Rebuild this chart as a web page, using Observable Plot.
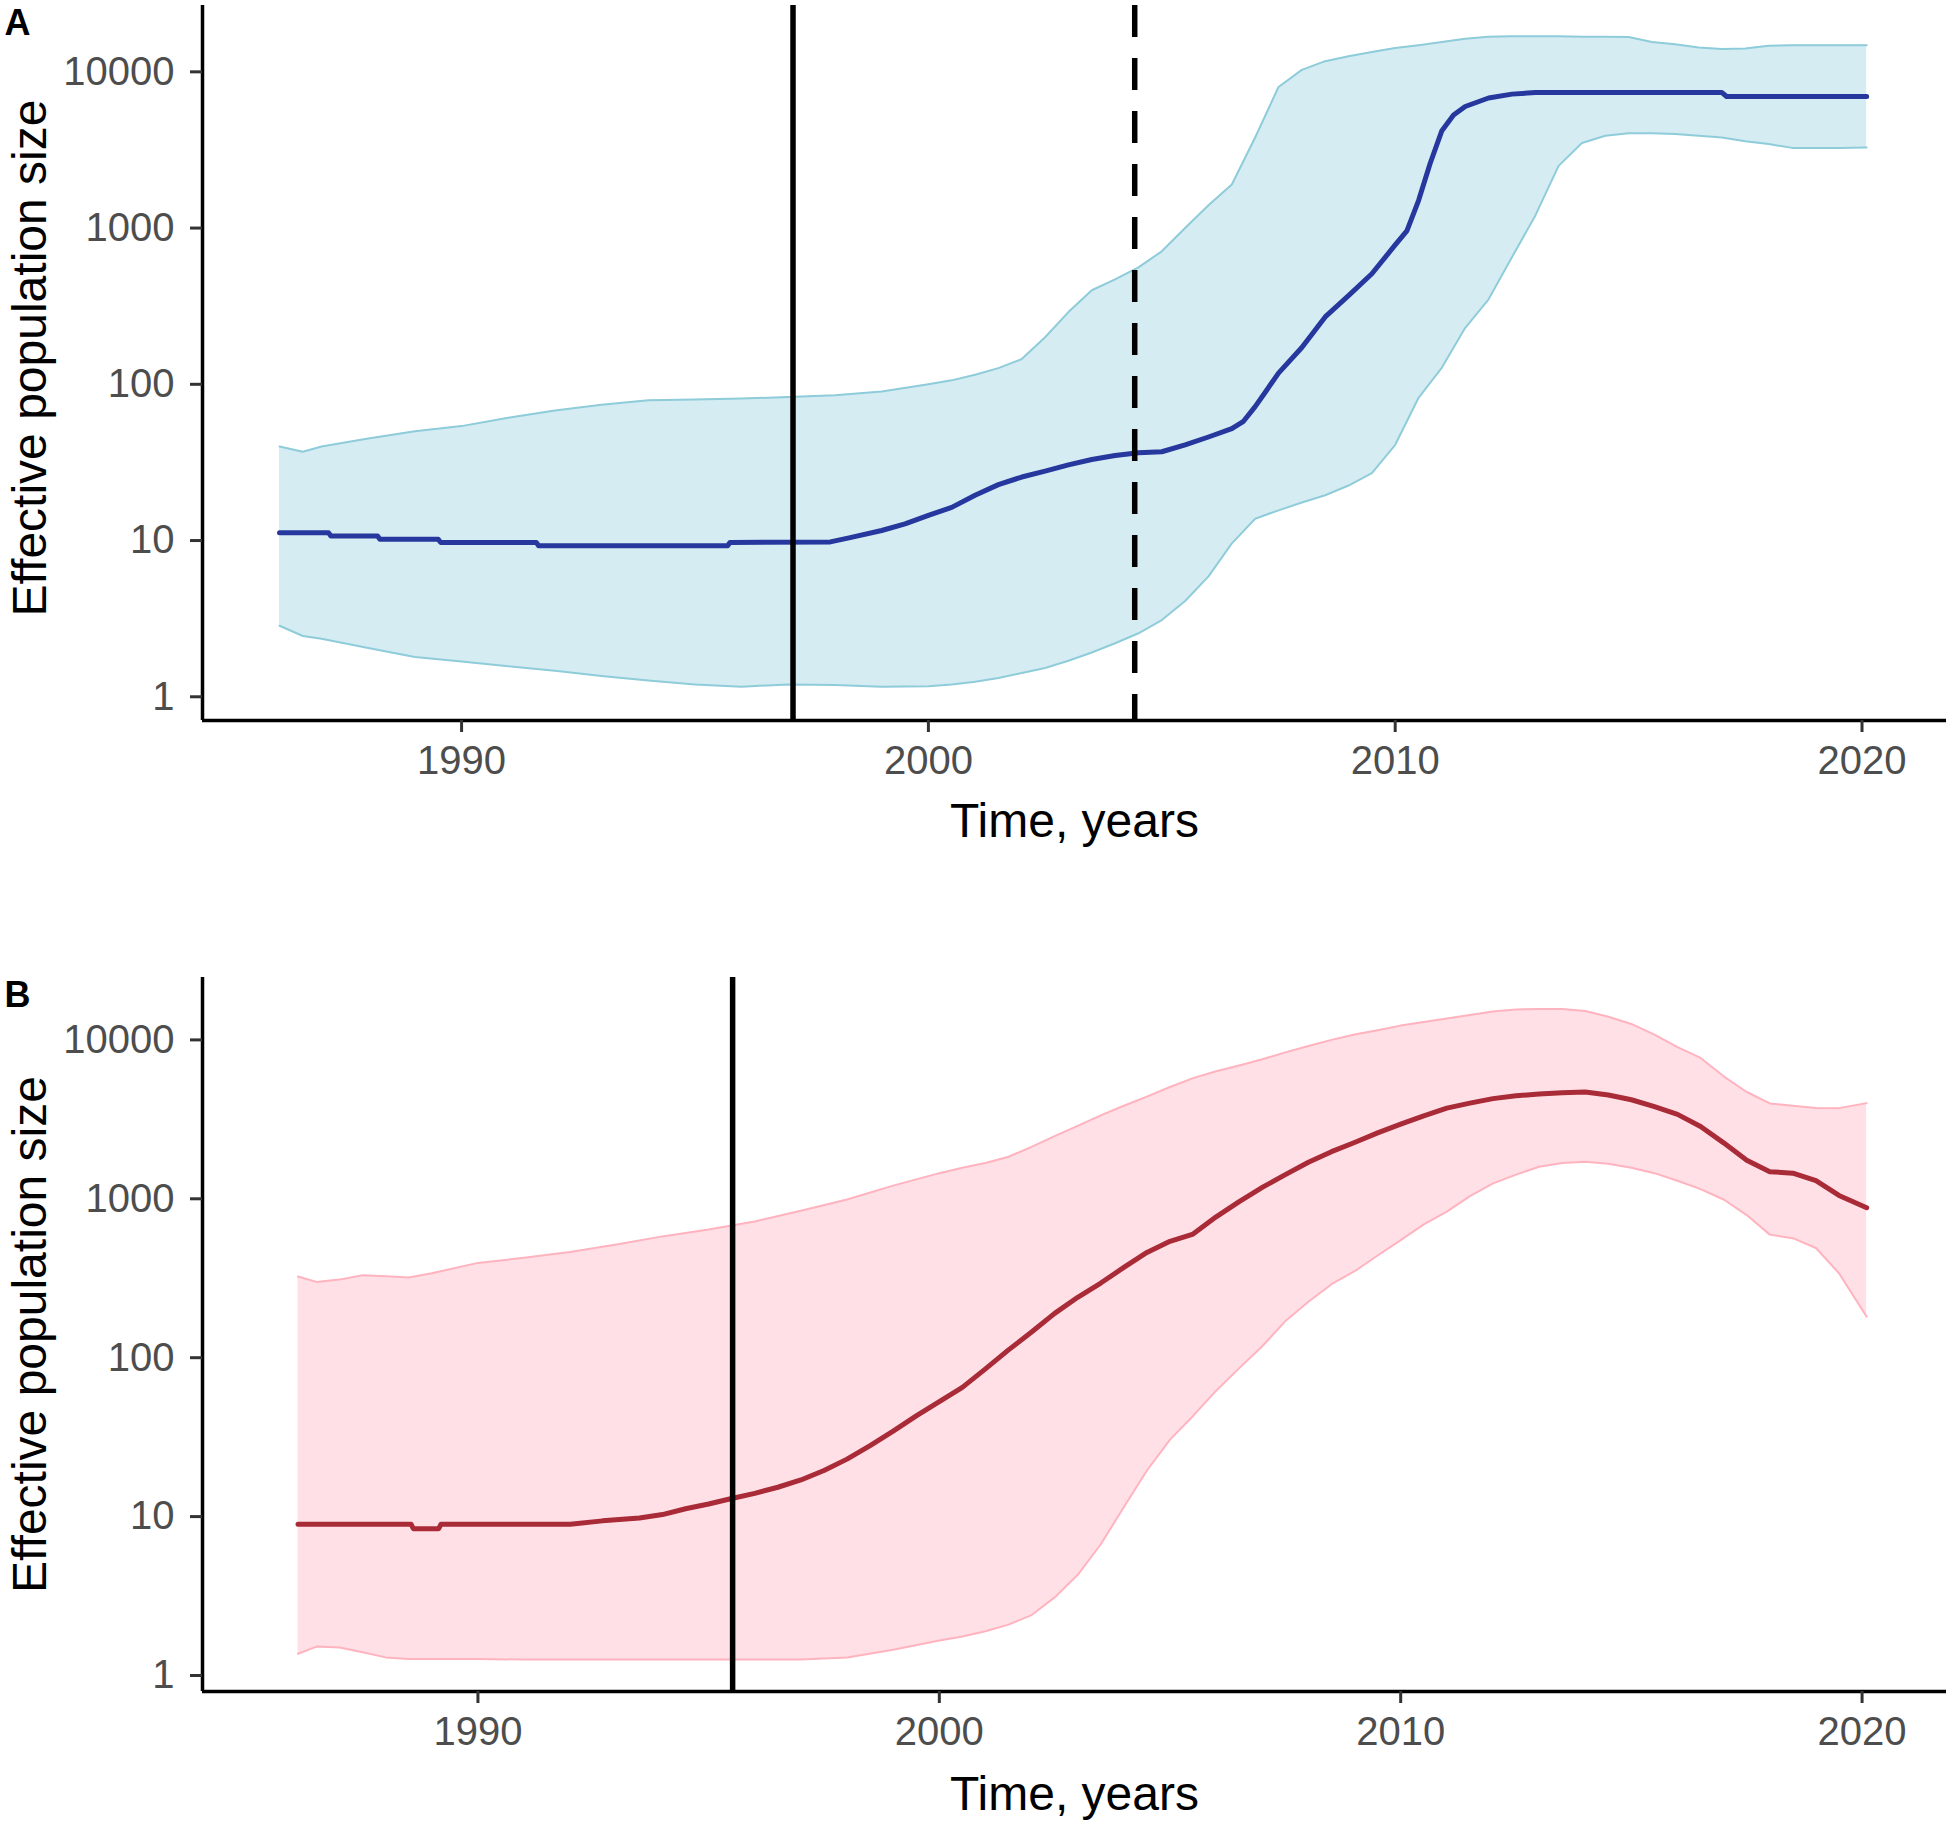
<!DOCTYPE html>
<html>
<head>
<meta charset="utf-8">
<script src="https://cdn.jsdelivr.net/npm/d3@7"></script>
<script src="https://cdn.jsdelivr.net/npm/@observablehq/plot@0.6"></script>
<style>
html, body { margin: 0; padding: 0; background: #fff; }
#chart svg { display: block; }
</style>
</head>
<body>
<div id="chart"></div>
<script>
// ---------- Panel A (blue) ----------
const gridA = [1986.1, 1986.6, 1987, 1988, 1989, 1990, 1991, 1992, 1993, 1994, 1995, 1996, 1997, 1998, 1999,
  2000, 2000.5, 2001, 2001.5, 2002, 2002.5, 2003, 2003.5, 2004, 2004.5, 2005, 2005.5, 2006, 2006.5, 2007, 2007.5,
  2008, 2008.5, 2009, 2009.5, 2010, 2010.5, 2011, 2011.5, 2012, 2012.5, 2013, 2013.5, 2014, 2014.5, 2015, 2015.5,
  2016, 2016.5, 2017, 2017.5, 2018, 2018.5, 2019, 2019.5, 2020.1];
const upperA = [40, 37, 40, 45, 50, 54, 61, 68, 74, 79, 80, 81, 83, 85, 90,
  100, 106, 115, 127, 145, 200, 290, 400, 470, 560, 710, 1000, 1400, 1900, 3800, 8000,
  10300, 11700, 12600, 13400, 14200, 14800, 15500, 16300, 16800, 16900, 16900, 16900, 16800, 16800, 16700, 15500,
  15000, 14300, 14000, 14100, 14700, 14800, 14800, 14800, 14800];
const lowerA = [2.85, 2.45, 2.35, 2.05, 1.8, 1.68, 1.57, 1.47, 1.36, 1.27, 1.2, 1.16, 1.2, 1.19, 1.16,
  1.17, 1.2, 1.25, 1.32, 1.42, 1.53, 1.7, 1.92, 2.2, 2.55, 3.1, 4.1, 5.9, 9.6, 13.8, 15.6,
  17.5, 19.5, 22.5, 27, 41, 82, 128, 230, 350, 650, 1200, 2500, 3500, 3900, 4050, 4050,
  4000, 3900, 3800, 3600, 3450, 3260, 3250, 3260, 3280];
const meanYearsA = [1986.1, 1987.15, 1987.2, 1988.2, 1988.25, 1989.5, 1989.55, 1991.6, 1991.65, 1995.7, 1995.75,
  1997.9, 1998.3, 1999.0, 1999.5, 2000.0, 2000.5, 2001.0, 2001.5, 2002.0, 2002.5, 2003.0, 2003.5, 2004.0, 2004.5,
  2005.0, 2005.5, 2006.0, 2006.5, 2006.75, 2007.0, 2007.25, 2007.5, 2008.0, 2008.5, 2009.0, 2009.5, 2010.0,
  2010.25, 2010.5, 2010.75, 2011.0, 2011.25, 2011.5, 2012.0, 2012.5, 2013.0, 2017.0, 2017.1, 2020.1];
const meanA = [11.2, 11.2, 10.7, 10.7, 10.2, 10.2, 9.73, 9.73, 9.26, 9.26, 9.73,
  9.8, 10.4, 11.6, 12.8, 14.5, 16.3, 19.5, 22.8, 25.5, 27.8, 30.5, 33, 35, 36.5,
  37, 41, 46, 52, 58, 72, 92, 118, 172, 270, 370, 510, 780,
  960, 1500, 2600, 4200, 5300, 6000, 6800, 7200, 7370, 7370, 6950, 6950];
const solidA = [1997.1];
const dashedA = [2004.42];

// ---------- Panel B (red) ----------
const gridB = [1986.1, 1986.5, 1987, 1987.5, 1988, 1988.5, 1989, 1990, 1991, 1992, 1993, 1994, 1995, 1996, 1997, 1998, 1999,
  2000, 2000.5, 2001, 2001.5, 2002, 2002.5, 2003, 2003.5, 2004, 2004.5, 2005, 2005.5, 2006, 2006.5, 2007, 2007.5,
  2008, 2008.5, 2009, 2009.5, 2010, 2010.5, 2011, 2011.5, 2012, 2012.5, 2013, 2013.5, 2014, 2014.5, 2015, 2015.5,
  2016, 2016.5, 2017, 2017.5, 2018, 2018.5, 2019, 2019.5, 2020.1];
const upperB = [324, 300, 310, 330, 325, 320, 340, 395, 425, 462, 515, 580, 640, 720, 840, 990, 1210,
  1450, 1570, 1680, 1840, 2120, 2480, 2880, 3350, 3850, 4400, 5050, 5750, 6350, 6900, 7550, 8350,
  9150, 10000, 10800, 11500, 12300, 12950, 13650, 14350, 15100, 15550, 15650, 15650, 15200, 14000, 12600, 10800,
  9000, 7700, 5900, 4700, 3980, 3850, 3730, 3720, 4000];
const lowerB = [1.37, 1.52, 1.5, 1.4, 1.3, 1.27, 1.27, 1.27, 1.26, 1.26, 1.26, 1.26, 1.26, 1.26, 1.26, 1.3, 1.45,
  1.66, 1.76, 1.9, 2.09, 2.4, 3.1, 4.3, 6.7, 11.5, 19.5, 30.5, 43, 62, 86, 118, 170,
  225, 290, 350, 440, 550, 690, 830, 1040, 1250, 1420, 1590, 1680, 1710, 1660, 1570, 1450,
  1300, 1150, 990, 790, 595, 565, 490, 340, 181];
const meanYearsB = [1986.1, 1988.55, 1988.6, 1989.15, 1989.2, 1992.0, 1992.7, 1993.5, 1994.0, 1994.5, 1995.0, 1995.5,
  1996.0, 1996.5, 1997.0, 1997.5, 1998.0, 1998.5, 1999.0, 1999.5, 2000.0, 2000.5, 2001.0, 2001.5, 2002.0, 2002.5,
  2003.0, 2003.5, 2004.0, 2004.5, 2005.0, 2005.5, 2006.0, 2006.5, 2007.0, 2007.5, 2008.0, 2008.5, 2009.0, 2009.5,
  2010.0, 2010.5, 2011.0, 2011.5, 2012.0, 2012.5, 2013.0, 2013.5, 2014.0, 2014.5, 2015.0, 2015.5, 2016.0, 2016.5,
  2017.0, 2017.5, 2018.0, 2018.5, 2019.0, 2019.5, 2020.1];
const meanB = [8.96, 8.96, 8.4, 8.4, 8.96, 8.96, 9.4, 9.8, 10.3, 11.2, 12.0, 13.0,
  14.0, 15.3, 17.0, 19.5, 23, 28, 34.5, 43, 53, 65, 85, 112, 145, 190,
  240, 295, 370, 460, 540, 600, 770, 960, 1180, 1420, 1700, 1980, 2260, 2600,
  2950, 3330, 3720, 4000, 4270, 4450, 4570, 4650, 4700, 4500, 4200, 3800, 3400, 2850,
  2250, 1750, 1480, 1450, 1300, 1050, 879];
const solidB = [1995.52];

// ---------- Shared axis text ----------
const xTicks = [1990, 2000, 2010, 2020];
const yTicks = [1, 10, 100, 1000, 10000];
const xTitle = "Time, years";
const yTitle = "Effective population size";

function panel(o) {
  const band = o.grid.map((x, i) => ({x, lo: o.lower[i], hi: o.upper[i]}));
  const mean = o.meanYears.map((x, i) => ({x, y: o.mean[i]}));
  const W = 1950, H = 912;
  return Plot.plot({
    width: W,
    height: H,
    marginLeft: 202,
    marginRight: 4,
    marginTop: o.marginTop,
    marginBottom: o.marginBottom,
    style: {fontFamily: "'Liberation Sans', Arial, sans-serif", background: "white", overflow: "visible"},
    x: {domain: o.xDomain},
    y: {type: "log", domain: o.yDomain},
    marks: [
      Plot.areaY(band, {x: "x", y1: "lo", y2: "hi", fill: o.fill, curve: "linear"}),
      Plot.line(band, {x: "x", y: "hi", stroke: o.edge, strokeWidth: 2, curve: "linear"}),
      Plot.line(band, {x: "x", y: "lo", stroke: o.edge, strokeWidth: 2, curve: "linear"}),
      Plot.line(mean, {x: "x", y: "y", stroke: o.lineColor, strokeWidth: 5, curve: "linear"}),
      Plot.ruleX(o.solid, {stroke: "black", strokeWidth: 5.5}),
      Plot.ruleX(o.dashed || [], {stroke: "black", strokeWidth: 5.5, strokeDasharray: "32,21"}),
      Plot.ruleX([o.xDomain[0]], {stroke: "black", strokeWidth: 3.5}),
      Plot.ruleY([o.yDomain[0]], {stroke: "black", strokeWidth: 3.5}),
      Plot.axisX({ticks: xTicks, tickFormat: d => String(d), tickSize: 12, tickPadding: 13,
        fontSize: 40, stroke: "#333", strokeWidth: 3, fill: "#4D4D4D", label: null}),
      Plot.axisY({ticks: yTicks, tickFormat: d => String(d), tickSize: 12, tickPadding: 16,
        fontSize: 40, stroke: "#333", strokeWidth: 3, fill: "#4D4D4D", label: null}),
      Plot.text([xTitle], {text: d => d, frameAnchor: "bottom", dy: o.xTitleDy, textAnchor: "middle",
        lineAnchor: "middle", fontSize: 48, fill: "black"}),
      Plot.text([yTitle], {text: d => d, frameAnchor: "left", dx: -172, dy: o.yTitleDy, rotate: -90,
        textAnchor: "middle", lineAnchor: "middle", fontSize: 48, fill: "black"}),
      Plot.text([o.letter], {text: d => d, frameAnchor: "top-left", dx: -198, dy: 4, lineAnchor: "top",
        textAnchor: "start", fontSize: 36, fontWeight: "bold", fill: "black"})
    ]
  });
}

const chart = document.getElementById("chart");
chart.append(panel({
  letter: "A", grid: gridA, lower: lowerA, upper: upperA, meanYears: meanYearsA, mean: meanA,
  solid: solidA, dashed: dashedA,
  xDomain: [1984.45, 2021.81], yDomain: [0.705, 26580],
  marginTop: 5, marginBottom: 192,
  fill: "#D6ECF3", edge: "#8ECCDA", lineColor: "#26379E",
  xTitleDy: 101, yTitleDy: -5
}));
chart.append(panel({
  letter: "B", grid: gridB, lower: lowerB, upper: upperB, meanYears: meanYearsB, mean: meanB,
  solid: solidB, dashed: [],
  xDomain: [1984.03, 2021.83], yDomain: [0.793, 24700],
  marginTop: 65, marginBottom: 133,
  fill: "#FFE0E6", edge: "#FFB3BF", lineColor: "#A82B37",
  xTitleDy: 103, yTitleDy: 0
}));
</script>
</body>
</html>
